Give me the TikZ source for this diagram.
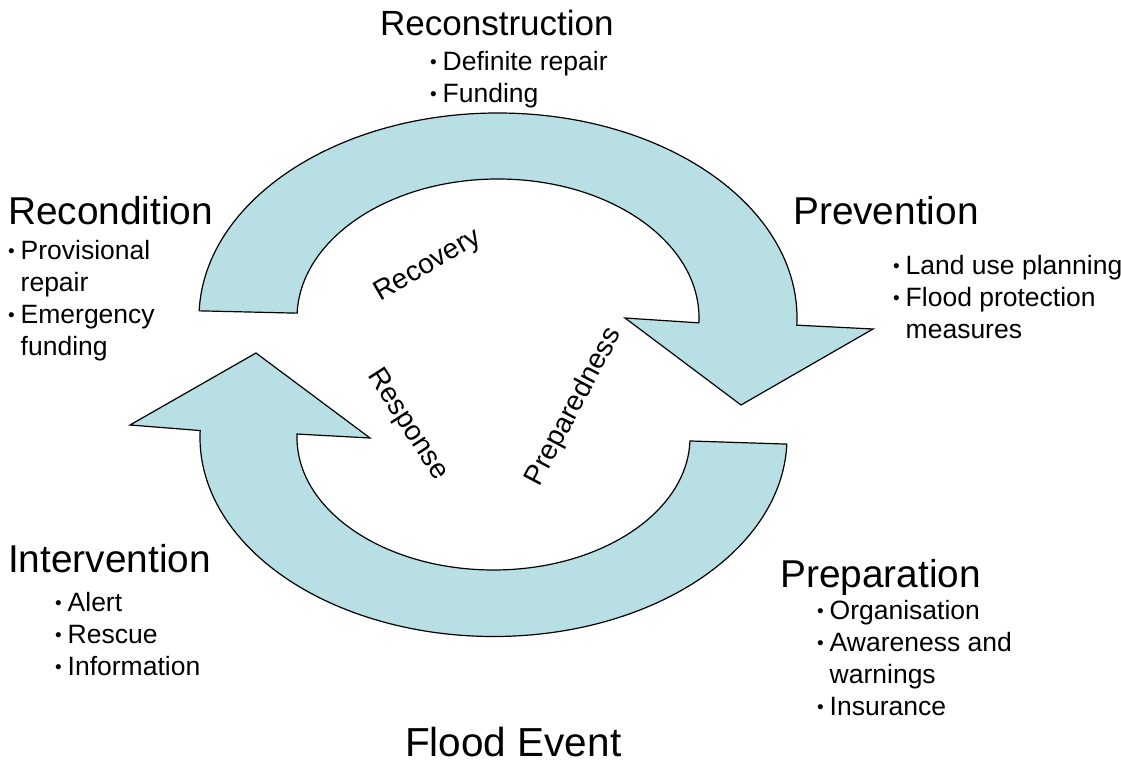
\documentclass[tikz,border=0pt]{standalone}
\usepackage{fontspec}
\setmainfont{Liberation Sans}
\usetikzlibrary{calc}
\definecolor{bandfill}{RGB}{184,223,227}
\newcommand{\bulletmark}{\makebox[12.5pt][l]{\raisebox{1.5pt}{\fontsize{19}{19}\selectfont\textbullet}}}
\newcommand{\bulletgap}{\hspace*{12.5pt}}

\begin{document}
\begin{tikzpicture}[x=1pt,y=-1pt,
  band/.style={fill=bandfill,draw=black,line width=1.2pt,line join=miter},
  title/.style={anchor=base west,inner sep=0pt,font=\fontsize{38.8}{46}\selectfont},
  items/.style={anchor=north west,inner sep=0pt,align=left,font=\fontsize{26.5}{32}\selectfont},
  phase/.style={inner sep=0pt,font=\fontsize{28}{34}\selectfont}]
\useasboundingbox (0,0) rectangle (1121,765);

% centres of the two curved bands
\coordinate (uc) at (498,318);
\coordinate (lc) at (493.5,437.5);

% upper band: Recovery -> Prevention
\draw[band] ($(uc)+(182:299 and 205)$) coordinate (uol)
  arc[start angle=182,end angle=362,x radius=299,y radius=205]
  -- (873,329) coordinate (uhr)
  -- (741,405) coordinate (utip)
  -- (625,318) coordinate (uhl)
  -- ($(uc)+(362:201 and 139)$)
  arc[start angle=362,end angle=182,x radius=201,y radius=139]
  -- cycle;

% lower band: Preparedness -> Response
\draw[band] ($(lc)+(1.5:196.5 and 132.5)$) coordinate (lir)
  -- ($(lc)+(1.9:293.5 and 199)$)
  arc[start angle=1.9,end angle=182,x radius=293.5,y radius=199]
  -- (130,425) coordinate (lhl)
  -- (256,353) coordinate (ltip)
  -- (370,438) coordinate (lhr)
  -- ($(lc)+(181.5:196.5 and 132.5)$)
  arc[start angle=181.5,end angle=1.5,x radius=196.5,y radius=132.5]
  -- cycle;

% phase titles
\node[title,font=\fontsize{35}{42}\selectfont] (recon) at (380,36) {Reconstruction};
\node[title] (recond) at (8,224) {Recondition};
\node[title] (prev) at (793,224) {Prevention};
\node[title] (interv) at (8,572) {Intervention};
\node[title] (prep) at (780,587) {Preparation};
\node[title,font=\fontsize{40.5}{48}\selectfont] (flood) at (405,756) {Flood Event};

% measures of each phase
\node[items] (reconL) at (430,51) {\bulletmark Definite repair\\\bulletmark Funding};
\node[items] (recondL) at (8,240) {\bulletmark Provisional\\\bulletgap repair\\\bulletmark Emergency\\\bulletgap funding};
\node[items] (prevL) at (893,255) {\bulletmark Land use planning\\\bulletmark Flood protection\\\bulletgap measures};
\node[items] (intervL) at (55,592) {\bulletmark Alert\\\bulletmark Rescue\\\bulletmark Information};
\node[items] (prepL) at (817,600) {\bulletmark Organisation\\\bulletmark Awareness and\\\bulletgap warnings\\\bulletmark Insurance};

% cycle stages along the bands
\node[phase,rotate=30] (recovery) at (428,266) {Recovery};
\node[phase,rotate=-57] (response) at (407,425) {Response};
\node[phase,rotate=62] (prepared) at (574,407) {Preparedness};
\end{tikzpicture}
\end{document}
